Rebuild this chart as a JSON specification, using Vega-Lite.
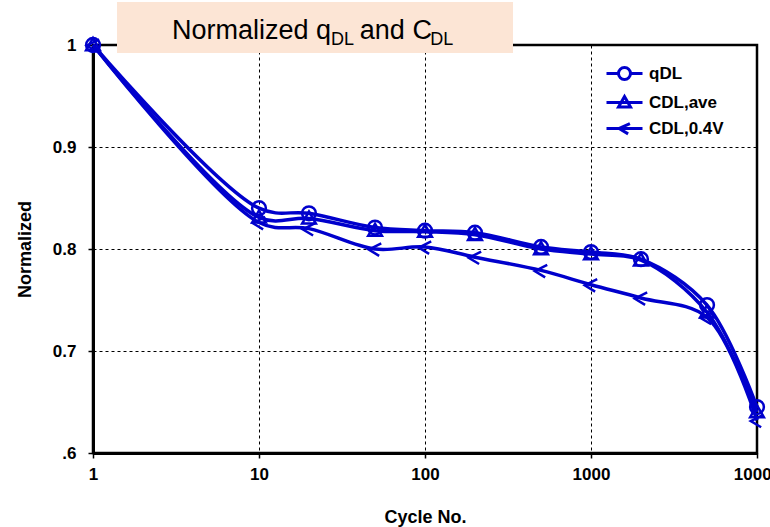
{
  "$schema": "https://vega.github.io/schema/vega-lite/v6.json",
  "width": 664,
  "height": 408,
  "autosize": "none",
  "padding": {"left": 93, "top": 45, "right": 13, "bottom": 74},
  "background": "white",
  "config": {
    "view": {"stroke": "black", "strokeWidth": 2.5},
    "font": "Liberation Sans"
  },
  "datasets": {
    "main": [
      {"cycle": 1, "value": 1.0, "series": "qDL"},
      {"cycle": 10, "value": 0.840, "series": "qDL"},
      {"cycle": 20, "value": 0.835, "series": "qDL"},
      {"cycle": 50, "value": 0.821, "series": "qDL"},
      {"cycle": 100, "value": 0.818, "series": "qDL"},
      {"cycle": 200, "value": 0.816, "series": "qDL"},
      {"cycle": 500, "value": 0.802, "series": "qDL"},
      {"cycle": 1000, "value": 0.797, "series": "qDL"},
      {"cycle": 2000, "value": 0.790, "series": "qDL"},
      {"cycle": 5000, "value": 0.745, "series": "qDL"},
      {"cycle": 10000, "value": 0.645, "series": "qDL"},
      {"cycle": 1, "value": 1.0, "series": "CDL,ave"},
      {"cycle": 10, "value": 0.831, "series": "CDL,ave"},
      {"cycle": 20, "value": 0.830, "series": "CDL,ave"},
      {"cycle": 50, "value": 0.818, "series": "CDL,ave"},
      {"cycle": 100, "value": 0.817, "series": "CDL,ave"},
      {"cycle": 200, "value": 0.814, "series": "CDL,ave"},
      {"cycle": 500, "value": 0.800, "series": "CDL,ave"},
      {"cycle": 1000, "value": 0.795, "series": "CDL,ave"},
      {"cycle": 2000, "value": 0.789, "series": "CDL,ave"},
      {"cycle": 5000, "value": 0.738, "series": "CDL,ave"},
      {"cycle": 10000, "value": 0.640, "series": "CDL,ave"},
      {"cycle": 1, "value": 1.0, "series": "CDL,0.4V"},
      {"cycle": 10, "value": 0.826, "series": "CDL,0.4V"},
      {"cycle": 20, "value": 0.820, "series": "CDL,0.4V"},
      {"cycle": 50, "value": 0.800, "series": "CDL,0.4V"},
      {"cycle": 100, "value": 0.802, "series": "CDL,0.4V"},
      {"cycle": 200, "value": 0.792, "series": "CDL,0.4V"},
      {"cycle": 500, "value": 0.779, "series": "CDL,0.4V"},
      {"cycle": 1000, "value": 0.765, "series": "CDL,0.4V"},
      {"cycle": 2000, "value": 0.752, "series": "CDL,0.4V"},
      {"cycle": 5000, "value": 0.733, "series": "CDL,0.4V"},
      {"cycle": 10000, "value": 0.632, "series": "CDL,0.4V"}
    ],
    "titlebox": [{"x": 1.395, "x2": 338.9, "y": 0.99216, "y2": 1.04216}],
    "titlemain": [
      {"t": "Normalized q", "x": 2.99, "y": 1.0059},
      {"t": "and C", "x": 40.5, "y": 1.0059}
    ],
    "titlesub": [
      {"t": "DL", "x": 27.15, "y": 1.0},
      {"t": "DL", "x": 107.5, "y": 1.0}
    ]
  },
  "layer": [
    {
      "data": {"name": "main"},
      "mark": {"type": "line", "color": "#0000CC", "strokeWidth": 3.5, "interpolate": "catmull-rom"},
      "encoding": {
        "x": {
          "field": "cycle", "type": "quantitative",
          "scale": {"type": "log", "domain": [1, 10000], "nice": false},
          "axis": {
            "values": [1, 10, 100, 1000, 10000],
            "format": "d",
            "title": "Cycle No.",
            "titleFont": "Liberation Sans", "titleFontSize": 18, "titleFontWeight": "bold", "titleColor": "black",
            "titlePadding": 26,
            "labelFont": "Liberation Sans", "labelFontSize": 17, "labelFontWeight": "bold", "labelColor": "black",
            "labelPadding": 8, "labelFlush": false, "labelOverlap": false,
            "domainColor": "black", "domainWidth": 3,
            "tickColor": "black", "tickSize": 5, "tickWidth": 1.5,
            "grid": true, "gridColor": "black", "gridDash": [3, 3], "gridWidth": 1
          }
        },
        "y": {
          "field": "value", "type": "quantitative",
          "scale": {"domain": [0.6, 1.0], "nice": false, "zero": false},
          "axis": {
            "values": [0.6, 0.7, 0.8, 0.9, 1.0],
            "labelExpr": "datum.value < 0.65 ? '.6' : (datum.value > 0.95 ? '1' : format(datum.value, '.1f'))",
            "title": "Normalized",
            "titleFont": "Liberation Sans", "titleFontSize": 18, "titleFontWeight": "bold", "titleColor": "black",
            "titlePadding": 18,
            "labelFont": "Liberation Sans", "labelFontSize": 17, "labelFontWeight": "bold", "labelColor": "black",
            "labelPadding": 12, "labelFlush": false,
            "domainColor": "black", "domainWidth": 3,
            "tickColor": "black", "tickSize": 5, "tickWidth": 1.5,
            "grid": true, "gridColor": "black", "gridDash": [3, 3], "gridWidth": 1
          }
        },
        "detail": {"field": "series", "type": "nominal"}
      }
    },
    {
      "data": {"name": "main"},
      "mark": {"type": "point", "filled": false, "color": "#0000CC", "strokeWidth": 2.5, "size": 190, "opacity": 1},
      "encoding": {
        "x": {"field": "cycle", "type": "quantitative"},
        "y": {"field": "value", "type": "quantitative"},
        "shape": {
          "field": "series", "type": "nominal",
          "scale": {"domain": ["qDL", "CDL,ave", "CDL,0.4V"], "range": ["circle", "M-1,0.75L0,-1L1,0.75Z", "M0.9,-0.8L-0.9,0.1L0.6,1"]},
          "legend": null
        }
      }
    },
    {
      "data": {"name": "main"},
      "transform": [{"filter": {"field": "value", "lt": 0}}],
      "mark": {"type": "point", "filled": false, "color": "#0000CC", "strokeWidth": 3, "opacity": 1},
      "encoding": {
        "x": {"field": "cycle", "type": "quantitative"},
        "y": {"field": "value", "type": "quantitative"},
        "shape": {
          "field": "series", "type": "nominal",
          "scale": {
            "domain": ["qDL", "CDL,ave", "CDL,0.4V"],
            "range": [
              "M-3,0L-1,0M1,0L3,0M-1,0A1,1 0 1,0 1,0A1,1 0 1,0 -1,0",
              "M-3,0L3,0M-1,0.75L0,-1L1,0.75Z",
              "M-3,0L3,0M0.9,-0.8L-0.9,0L0.6,0.9"
            ]
          },
          "legend": {
            "title": null,
            "orient": "none",
            "legendX": 517,
            "legendY": 14,
            "fillColor": "white",
            "padding": 6,
            "symbolSize": 144,
            "symbolStrokeWidth": 3,
            "symbolStrokeColor": "#0000CC",
            "symbolFillColor": "transparent",
            "labelFont": "Liberation Sans",
            "labelFontSize": 17,
            "labelFontWeight": "bold",
            "labelColor": "black",
            "labelOffset": 16,
            "rowPadding": 4
          }
        }
      }
    },
    {
      "data": {"name": "titlebox"},
      "mark": {"type": "rect", "color": "#FCE5D5", "clip": false},
      "encoding": {
        "x": {"field": "x", "type": "quantitative"},
        "x2": {"field": "x2"},
        "y": {"field": "y", "type": "quantitative"},
        "y2": {"field": "y2"}
      }
    },
    {
      "data": {"name": "titlemain"},
      "mark": {"type": "text", "align": "left", "baseline": "alphabetic", "font": "Liberation Sans", "fontSize": 27, "color": "black"},
      "encoding": {
        "x": {"field": "x", "type": "quantitative"},
        "y": {"field": "y", "type": "quantitative"},
        "text": {"field": "t"}
      }
    },
    {
      "data": {"name": "titlesub"},
      "mark": {"type": "text", "align": "left", "baseline": "alphabetic", "font": "Liberation Sans", "fontSize": 18, "color": "black"},
      "encoding": {
        "x": {"field": "x", "type": "quantitative"},
        "y": {"field": "y", "type": "quantitative"},
        "text": {"field": "t"}
      }
    }
  ],
  "resolve": {"scale": {"shape": "independent"}}
}
